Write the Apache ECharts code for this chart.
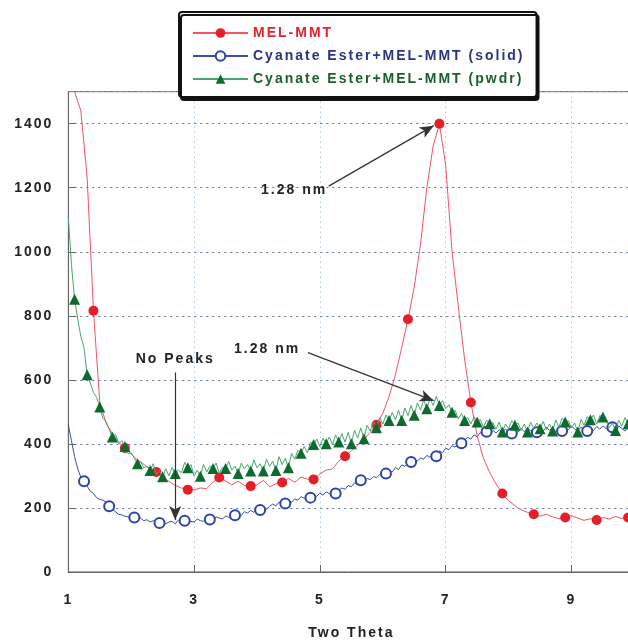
<!DOCTYPE html>
<html>
<head>
<meta charset="utf-8">
<script src="https://cdn.jsdelivr.net/npm/echarts@6/dist/echarts.min.js"></script>
<style>
  html, body { margin: 0; padding: 0; background: #fff; }
  #chart { width: 628px; height: 640px; }
</style>
</head>
<body>
<div id="chart"></div>
<script>
// ---- X-ray diffraction scans (intensity vs. two theta) ----

// MEL-MMT: scan from 1.1 deg, 0.1 deg steps
const melStart = 1.1, melStep = 0.1;
const melValues = [
  1500, 1440, 1230, 816, 530, 465, 432, 405, 387,
  368, 350, 336, 322, 312, 296, 283, 270, 262, 257,
  256, 262, 260, 280, 295, 284, 272, 283, 270, 268,
  272, 286, 266, 275, 279, 292, 280, 296, 290, 289,
  306, 318, 322, 346, 361, 378, 396, 414, 436, 460,
  495, 548, 615, 700, 789, 890, 1025, 1200, 1330, 1400,
  1270, 1003, 830, 665, 529, 425, 355, 310, 275, 245,
  222, 207, 194, 186, 180, 174, 180, 172, 166, 170,
  176, 168, 161, 166, 162, 170, 165, 173, 167, 170,
  174
];
const melMarkers = [1.4, 1.9, 2.4, 2.9, 3.4, 3.9, 4.4, 4.9, 5.4, 5.9, 6.4, 6.9, 7.4, 7.9, 8.4, 8.9, 9.4, 9.9];

// Cyanate Ester + MEL-MMT (solid): scan from 1.0 deg, 0.05 deg steps
const solidStart = 1.0, solidStep = 0.05;
const solidValues = [
  460, 410, 360, 322, 295, 283, 268, 252, 245, 232, 226, 224, 218, 205, 195, 188, 180, 178, 174, 172,
  168, 170, 164, 168, 160, 163, 156, 160, 154, 153, 158, 150, 156, 158, 150, 162, 155, 160, 152, 158,
  156, 165, 160, 158, 168, 164, 160, 172, 168, 165, 175, 170, 176, 177, 182, 176, 188, 184, 192, 186,
  196, 193, 200, 196, 205, 212, 206, 218, 212, 214, 222, 218, 228, 224, 235, 230, 238, 232, 240, 236,
  246, 240, 250, 244, 252, 245, 256, 262, 258, 270, 266, 278, 272, 286, 282, 292, 288, 298, 294, 304,
  300, 307, 318, 312, 326, 320, 334, 330, 340, 343, 350, 346, 356, 352, 364, 358, 368, 361, 378, 372,
  386, 382, 394, 390, 400, 402, 412, 420, 415, 428, 422, 435, 428, 438, 430, 442, 434, 444, 436, 446,
  438, 432, 445, 436, 448, 438, 450, 440, 446, 436, 448, 440, 452, 442, 450, 438, 448, 440, 452, 444,
  456, 446, 440, 452, 444, 440, 450, 442, 454, 446, 456, 448, 440, 452, 444, 456, 448, 440, 452, 444,
  450
];
const solidMarkers = [1.25, 1.65, 2.05, 2.45, 2.85, 3.25, 3.65, 4.05, 4.45, 4.85, 5.25, 5.65, 6.05,
  6.45, 6.85, 7.25, 7.65, 8.05, 8.45, 8.85, 9.25, 9.65];

// Cyanate Ester + MEL-MMT (pwdr): scan from 1.0 deg, 0.05 deg steps
const pwdrStart = 1.0, pwdrStep = 0.05;
const pwdrValues = [
  1110, 960, 852, 790, 735, 700, 616, 590, 560, 545, 515, 480, 470, 445, 421, 430, 400, 410, 392, 370,
  372, 355, 338, 345, 325, 330, 317, 338, 305, 315, 297, 322, 300, 326, 307, 318, 310, 342, 325, 335,
  300, 318, 299, 336, 312, 330, 323, 340, 308, 326, 323, 345, 318, 330, 307, 340, 322, 335, 315, 350,
  325, 338, 315, 352, 330, 345, 317, 360, 335, 355, 325, 370, 352, 380, 371, 392, 372, 405, 398, 415,
  392, 418, 400, 422, 398, 428, 406, 432, 405, 436, 400, 442, 418, 450, 416, 458, 440, 470, 450, 482,
  462, 490, 473, 498, 475, 505, 473, 512, 488, 520, 489, 528, 505, 538, 510, 542, 520, 548, 520, 535,
  510, 522, 499, 505, 478, 495, 473, 482, 462, 485, 468, 476, 452, 474, 463, 466, 446, 468, 437, 462,
  448, 472, 458, 465, 442, 462, 437, 468, 448, 465, 447, 470, 445, 462, 440, 475, 452, 480, 468, 472,
  450, 465, 437, 476, 458, 485, 475, 490, 462, 488, 484, 472, 450, 465, 442, 474, 455, 482, 463, 470,
  455
];
const pwdrMarkers = [1.1, 1.3, 1.5, 1.7, 1.9, 2.1, 2.3, 2.5, 2.7, 2.9, 3.1, 3.3, 3.5, 3.7, 3.9,
  4.1, 4.3, 4.5, 4.7, 4.9, 5.1, 5.3, 5.5, 5.7, 5.9, 6.1, 6.3, 6.5, 6.7, 6.9, 7.1, 7.3, 7.5, 7.7, 7.9,
  8.1, 8.3, 8.5, 8.7, 8.9, 9.1, 9.3, 9.5, 9.7, 9.9];

const seriesNames = ['MEL-MMT', 'Cyanate Ester+MEL-MMT (solid)', 'Cyanate Ester+MEL-MMT (pwdr)'];

// Axis ranges
const xMin = 1, xMax = 10, xStep = 2;
const yMin = 0, yMax = 1500, yStep = 200;

// Callouts (data coordinates)
const noteTexts = ['1.28 nm', '1.28 nm', 'No Peaks'];
const noteAnchors = [[4.59, 1193], [4.16, 697], [2.70, 666]];
const arrowFrom = [[5.14, 1205], [4.81, 685], [2.70, 623]];
const arrowTo = [[6.81, 1394], [6.81, 535], [2.70, 162]];

// ---- text: letter-spaced bold sans, as on the printed plot ----
const LETTER_SPACING = '2px';
['fillText', 'strokeText', 'measureText'].forEach(function (fn) {
  const orig = CanvasRenderingContext2D.prototype[fn];
  CanvasRenderingContext2D.prototype[fn] = function () {
    this.letterSpacing = LETTER_SPACING;
    return orig.apply(this, arguments);
  };
});

const FONT = 'Liberation Sans';
const textBase = { fontFamily: FONT, fontWeight: 'bold', fontSize: 14, color: '#222' };

function buildScan(start, step, values, markers) {
  return values.map(function (v, i) {
    const x = Math.round((start + i * step) * 100) / 100;
    const marked = markers.some(function (m) { return Math.abs(m - x) < 1e-6; });
    return marked ? { value: [x, v] } : { value: [x, v], symbol: 'none' };
  });
}

const chart = echarts.init(document.getElementById('chart'), null, { renderer: 'canvas' });

const option = {
  animation: false,
  backgroundColor: '#fff',
  grid: {
    left: 68.3, top: 91.7, right: -6.4, bottom: 68.1,
    containLabel: false, outerBoundsMode: 'none',
    show: true, borderColor: '#777', borderWidth: 1, backgroundColor: 'transparent'
  },
  legend: {
    orient: 'vertical',
    left: 179, top: 12,
    padding: [13, 12, 10, 13],
    itemWidth: 55, itemHeight: 12, itemGap: 7,
    backgroundColor: '#fff',
    borderColor: '#111', borderWidth: 2, borderRadius: 3,
    shadowColor: '#111', shadowBlur: 0, shadowOffsetX: 2, shadowOffsetY: 3,
    selectedMode: false,
    textStyle: Object.assign({}, textBase),
    data: [
      { name: seriesNames[0], textStyle: { color: '#e0242c' } },
      { name: seriesNames[1], textStyle: { color: '#2a3580' } },
      { name: seriesNames[2], textStyle: { color: '#1b5e30' } }
    ]
  },
  xAxis: {
    type: 'value', min: xMin, max: xMax, interval: xStep,
    name: 'Two Theta', nameLocation: 'middle', nameGap: 53,
    nameTextStyle: Object.assign({}, textBase),
    axisLine: { show: true, onZero: false, lineStyle: { color: '#666', width: 1 } },
    axisTick: { show: true, inside: true, length: 7, lineStyle: { color: '#666' } },
    axisLabel: Object.assign({ margin: 20, showMaxLabel: false }, textBase),
    splitLine: { show: true, lineStyle: { color: '#86b2e2', width: 1, type: [1, 4] } }
  },
  yAxis: {
    type: 'value', min: yMin, max: yMax, interval: yStep,
    axisLine: { show: true, onZero: false, lineStyle: { color: '#666', width: 1 } },
    axisTick: { show: true, inside: true, length: 8, lineStyle: { color: '#666' } },
    axisLabel: Object.assign({
      margin: 15, showMaxLabel: false,
      formatter: function (v) { return String(v); }
    }, textBase),
    splitLine: { show: true, lineStyle: { color: '#5a70b8', width: 1, type: [2, 4] } }
  },
  series: [
    {
      name: seriesNames[0], type: 'line', z: 3,
      data: buildScan(melStart, melStep, melValues, melMarkers),
      showSymbol: true, showAllSymbol: true,
      symbol: 'circle', symbolSize: 10,
      lineStyle: { color: '#f05565', width: 1 },
      itemStyle: { color: '#e61e28' }
    },
    {
      name: seriesNames[1], type: 'line', z: 2,
      data: buildScan(solidStart, solidStep, solidValues, solidMarkers),
      showSymbol: true, showAllSymbol: true,
      symbol: 'emptyCircle', symbolSize: 10,
      lineStyle: { color: '#3c4fa8', width: 1 },
      itemStyle: { color: '#2a44a8', borderWidth: 1 }
    },
    {
      name: seriesNames[2], type: 'line', z: 4,
      data: buildScan(pwdrStart, pwdrStep, pwdrValues, pwdrMarkers),
      showSymbol: true, showAllSymbol: true,
      symbol: 'triangle', symbolSize: 11,
      lineStyle: { color: '#4aa56e', width: 1 },
      itemStyle: { color: '#0d6b2e' }
    },
    {
      name: 'callouts', type: 'line', data: [], z: 6, silent: true,
      markLine: {
        silent: true, animation: false,
        symbol: ['none', 'arrow'], symbolSize: [9, 14],
        lineStyle: { color: '#333', width: 1.2, type: 'solid' },
        label: { show: false },
        emphasis: { disabled: true },
        data: arrowFrom.map(function (p, i) { return [{ coord: p }, { coord: arrowTo[i] }]; })
      },
      markPoint: {
        silent: true, animation: false,
        symbol: 'circle', symbolSize: 0,
        label: Object.assign({ show: true, position: 'inside' }, textBase),
        data: noteAnchors.map(function (p, i) {
          return { coord: p, value: noteTexts[i], label: { formatter: noteTexts[i] } };
        })
      }
    }
  ]
};

chart.setOption(option);
</script>
</body>
</html>
